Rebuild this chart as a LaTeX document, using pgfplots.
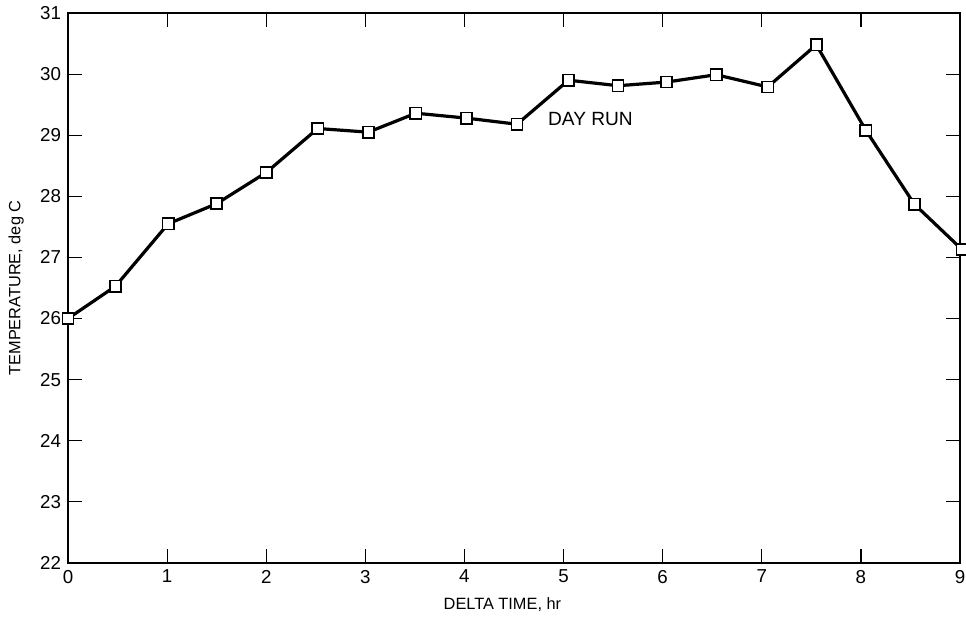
\documentclass[border=0pt]{standalone}
\usepackage{fontspec}
\setmainfont{Liberation Sans}
\usepackage{pgfplots}
\pgfplotsset{compat=1.18}

\begin{document}
\begin{tikzpicture}
\begin{axis}[
    name=ax,
    scale only axis,
    width=446bp,
    height=275bp,
    xmin=0, xmax=9,
    ymin=22, ymax=31,
    xtick={0,1,...,9},
    ytick={22,23,...,31},
    tick align=inside,
    tick pos=both,
    xticklabel pos=lower,
    yticklabel pos=left,
    major tick length=7bp,
    tick style={line width=0.6bp, black},
    axis line style={line width=0.9bp},
    /pgf/number format/assume math mode=true,
    ticklabel style={font=\fontsize{9.4}{11}\selectfont},
    label style={font=\fontsize{8.2}{10}\selectfont},
    xlabel={DELTA TIME, hr},
    ylabel={TEMPERATURE, deg C},
    xlabel style={at={(axis description cs:0.487,-0.0764)}, anchor=center},
    ylabel style={at={(axis description cs:-0.058,0.5)}, anchor=center},
    clip=false,
]
% day run
\addplot[
    black,
    line width=1.6bp,
    mark=square*,
    mark size=2.8bp,
    mark options={fill=white, draw=black, line width=0.8bp, solid},
] coordinates {
    (0.00,26.00)
    (0.48,26.53)
    (1.01,27.55)
    (1.50,27.88)
    (2.00,28.39)
    (2.52,29.11)
    (3.03,29.05)
    (3.51,29.36)
    (4.02,29.28)
    (4.53,29.18)
    (5.05,29.90)
    (5.55,29.81)
    (6.04,29.87)
    (6.54,29.99)
    (7.06,29.79)
    (7.55,30.48)
    (8.05,29.08)
    (8.54,27.87)
    (9.02,27.13)
};
\node[anchor=west, inner sep=0pt, font=\fontsize{9.6}{11}\selectfont] at (axis cs:4.84,29.26) {DAY RUN};
\end{axis}
\pgfresetboundingbox
\path[use as bounding box] ([xshift=-34bp,yshift=-28bp]ax.south west) rectangle ([xshift=3bp,yshift=6.5bp]ax.north east);
\end{tikzpicture}
\end{document}
